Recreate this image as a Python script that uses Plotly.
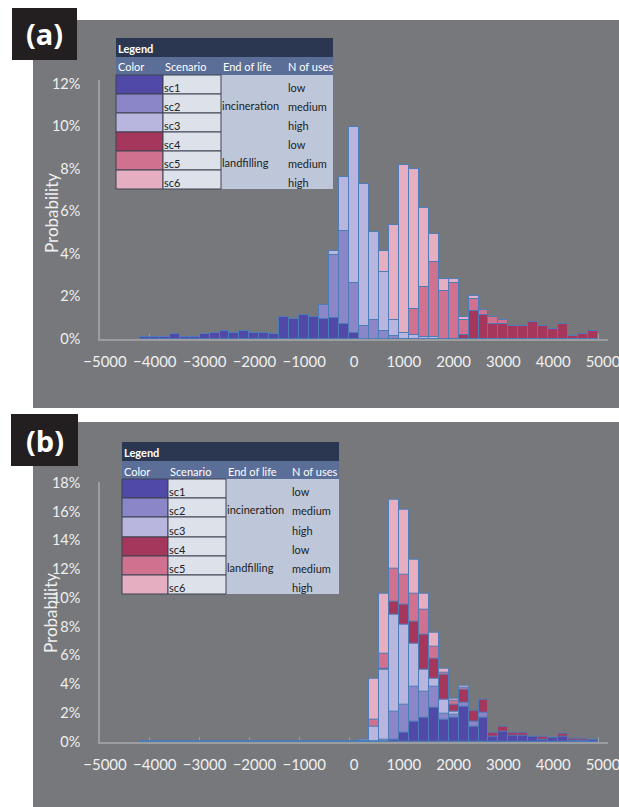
import plotly.graph_objects as go

# ---------------- data ----------------
bin_centers = [-4100, -3900, -3700, -3500, -3300, -3100, -2900, -2700, -2500, -2300,
               -2100, -1900, -1700, -1500, -1300, -1100, -900, -700, -500, -300,
               -100, 100, 300, 500, 700, 900, 1100, 1300, 1500, 1700,
               1900, 2100, 2300, 2500, 2700, 2900, 3100, 3300, 3500, 3700,
               3900, 4100, 4300, 4500, 4700, 4900]

scenarios = ["sc1", "sc2", "sc3", "sc4", "sc5", "sc6"]
end_of_life = ["incineration", "landfilling"]
n_of_uses = ["low", "medium", "high", "low", "medium", "high"]
x_ticks = [-5000, -4000, -3000, -2000, -1000, 0, 1000, 2000, 3000, 4000, 5000]

# panel (a): probability (%) per bin
sc1_a = [0.09, 0.09, 0.09, 0.2, 0.09, 0.09, 0.2, 0.25, 0.36, 0.25,
         0.36, 0.26, 0.26, 0.2, 1.02, 0.9, 1.12, 1.02, 0.9, 0.98,
         0.66, 0.25, 0, 0, 0, 0, 0, 0, 0, 0,
         0, 0, 0, 0, 0, 0, 0, 0, 0, 0,
         0, 0, 0, 0, 0, 0]
sc2_a = [0, 0, 0, 0, 0, 0, 0, 0, 0, 0,
         0, 0, 0, 0, 0, 0, 0, 0, 1.6, 3.92,
         5.05, 2.6, 0.58, 0.89, 0.36, 0.1, 0, 0, 0, 0,
         0, 0, 0, 0, 0, 0, 0, 0, 0, 0,
         0, 0, 0, 0, 0, 0]
sc3_a = [0, 0, 0, 0, 0, 0, 0, 0, 0, 0,
         0, 0, 0, 0, 0, 0, 0, 0, 0, 4.13,
         7.58, 9.93, 7.25, 5.03, 3.13, 0.89, 0.27, 0.17, 0.08, 0.08,
         0, 0, 0, 0, 0, 0, 0, 0, 0, 0,
         0, 0, 0, 0, 0, 0]
sc4_a = [0, 0, 0, 0, 0, 0, 0, 0, 0, 0,
         0, 0, 0, 0, 0, 0, 0, 0, 0, 0,
         0, 0, 0, 0, 0, 0, 0, 0, 0, 0,
         0, 0, 0.16, 1.3, 1.1, 0.66, 0.66, 0.58, 0.58, 0.78,
         0.58, 0.47, 0.67, 0.11, 0.2, 0.36]
sc5_a = [0, 0, 0, 0, 0, 0, 0, 0, 0, 0,
         0, 0, 0, 0, 0, 0, 0, 0, 0, 0,
         0, 0, 0, 0, 0, 0, 0, 1.38, 2.43, 3.6,
         2.24, 2.6, 0.89, 1.88, 1.36, 0.99, 0.89, 0, 0, 0,
         0, 0, 0, 0, 0, 0]
sc6_a = [0, 0, 0, 0, 0, 0, 0, 0, 0, 0,
         0, 0, 0, 0, 0, 0, 0, 0, 0, 0,
         0, 0, 0, 0, 4.13, 5.36, 8.17, 7.96, 6.15, 4.93,
         2.8, 2.81, 0.99, 1.99, 0, 0, 0, 0, 0, 0,
         0, 0, 0, 0, 0, 0]

# panel (b): probability (%) per bin
sc1_b = [0, 0, 0, 0, 0, 0, 0, 0, 0, 0,
         0, 0, 0, 0, 0, 0, 0, 0, 0, 0,
         0, 0, 0, 0, 0, 0.16, 0.63, 1.39, 1.69, 2.32,
         1.51, 1.67, 2.39, 1.04, 1.69, 0.35, 0.69, 0.39, 0.37, 0.33,
         0.16, 0.28, 0.3, 0.07, 0.07, 0.16]
sc2_b = [0, 0, 0, 0, 0, 0, 0, 0, 0, 0,
         0, 0, 0, 0, 0, 0, 0, 0, 0, 0,
         0, 0, 0, 0, 0.16, 2.04, 2.59, 3.82, 3.47, 3.82,
         1.9, 1.85, 2.73, 1.39, 2.0, 0, 0, 0, 0, 0,
         0, 0, 0, 0, 0, 0]
sc3_b = [0, 0, 0, 0, 0, 0, 0, 0, 0, 0,
         0, 0, 0, 0, 0, 0, 0, 0, 0, 0,
         0, 0, 0, 1.04, 4.98, 8.8, 8.11, 6.83, 4.98, 4.4,
         2.9, 2.04, 0, 0, 0, 0, 0, 0, 0, 0,
         0, 0, 0, 0, 0, 0]
sc4_b = [0, 0, 0, 0, 0, 0, 0, 0, 0, 0,
         0, 0, 0, 0, 0, 0, 0, 0, 0, 0,
         0, 0, 0, 0, 5.05, 9.73, 9.54, 8.34, 7.41, 5.79,
         4.63, 2.59, 3.59, 2.13, 2.88, 0.62, 1.0, 0.6, 0.6, 0,
         0.35, 0, 0.55, 0.21, 0.21, 0]
sc5_b = [0, 0, 0, 0, 0, 0, 0, 0, 0, 0,
         0, 0, 0, 0, 0, 0, 0, 0, 0, 0,
         0, 0, 0, 1.51, 6.14, 12.05, 11.58, 10.31, 9.15, 6.6,
         4.82, 2.83, 3.71, 0, 0, 0, 0, 0, 0, 0,
         0, 0, 0, 0, 0, 0]
sc6_b = [0, 0, 0, 0, 0, 0, 0, 0, 0, 0,
         0, 0, 0, 0, 0, 0, 0, 0, 0, 0,
         0, 0, 0.16, 4.4, 10.31, 16.84, 16.15, 12.67, 10.31, 7.57,
         5.05, 2.99, 3.89, 0, 0, 0, 0, 0, 0, 0,
         0, 0, 0, 0, 0, 0]

# ---------------- styles ----------------
colors = ["#5049a8", "#8a86c7", "#b8b6df", "#a6375c", "#d07190", "#e6aec1"]
BG = "#77787b"
AXIS = "#9c9d9f"
TXT = "#f0f0f0"
OUTLINE = "#4c7db8"
FONT = "Lato"
W, H = 619, 807


def px(x):
    return x / W


def py(y):
    return 1 - y / H


fig = go.Figure()

panel_a = [sc1_a, sc2_a, sc3_a, sc4_a, sc5_a, sc6_a]
panel_b = [sc1_b, sc2_b, sc3_b, sc4_b, sc5_b, sc6_b]

for panel, (xa, ya) in ((panel_a, ("x", "y")), (panel_b, ("x2", "y2"))):
    # draw sc6 first, sc1 last (on top), like Excel 100% overlap
    for i in range(5, -1, -1):
        fig.add_trace(go.Bar(
            x=bin_centers, y=panel[i], width=200, name=scenarios[i],
            marker=dict(color=colors[i], line=dict(color=OUTLINE, width=1)),
            xaxis=xa, yaxis=ya, showlegend=False, hoverinfo="skip",
        ))

xdom = [px(100), px(608)]
xcommon = dict(range=[-5000, 5200], tickvals=x_ticks, showgrid=False, zeroline=False,
               showline=True, linecolor=AXIS, linewidth=1.5, ticks="inside", ticklen=5,
               tickcolor=AXIS, tickwidth=1, layer="below traces", automargin=False,
               tickfont=dict(family=FONT, size=15, color=TXT), ticklabelstandoff=9,
               ticklabelshift=5, ticklabeloverflow="allow")
ycommon = dict(showgrid=False, zeroline=False, showline=True, linecolor=AXIS, linewidth=1.5,
               ticks="", ticksuffix="%", tickfont=dict(family=FONT, size=14.5, color=TXT),
               ticklabelstandoff=15, layer="below traces", automargin=False)

fig.update_layout(
    width=W, height=H, margin=dict(l=0, r=0, t=0, b=0, autoexpand=False),
    paper_bgcolor="white", plot_bgcolor="rgba(0,0,0,0)",
    barmode="overlay", bargap=0,
    xaxis=dict(domain=xdom, anchor="y", **xcommon),
    yaxis=dict(domain=[py(338.5), py(80)], anchor="x", range=[0, 12.165], dtick=2, **ycommon),
    xaxis2=dict(domain=xdom, anchor="y2", **xcommon),
    yaxis2=dict(domain=[py(741.5), py(481.7)], anchor="x2", range=[0, 18.07], dtick=2, **ycommon),
)

shapes = []
annotations = []

# grey panels
for (y0, y1) in ((20, 408), (422, 807)):
    shapes.append(dict(type="rect", xref="paper", yref="paper", x0=px(33), x1=px(619),
                       y0=py(y1), y1=py(y0), fillcolor=BG, line=dict(width=0), layer="below"))

# panel labels
for label, (x0, x1, y0, y1) in (("(a)", (12, 77, 8, 60)), ("(b)", (11, 78, 414, 466))):
    shapes.append(dict(type="rect", xref="paper", yref="paper", x0=px(x0), x1=px(x1),
                       y0=py(y1), y1=py(y0), fillcolor="#231f20", line=dict(width=0), layer="above"))
    annotations.append(dict(text=label, xref="paper", yref="paper", x=px((x0 + x1) / 2),
                            y=py((y0 + y1) / 2), showarrow=False, xanchor="center", yanchor="middle",
                            font=dict(family="Open Sans", size=29, color="white", weight="bold")))

# y titles
for (xc, yc) in ((51, 213), (50, 613)):
    annotations.append(dict(text="Probability", xref="paper", yref="paper", x=px(xc), y=py(yc),
                            textangle=-90, showarrow=False, xanchor="center", yanchor="middle",
                            font=dict(family=FONT, size=17, color=TXT)))


def legend_table(xs, ys):
    # xs: color-left, scenario-left, eol-left, uses-text-left, right
    # ys: title-top, header-top, row tops (7 values incl. bottom)
    xl, xsc, xe, xu, xr = xs
    yt, yh = ys[0], ys[1]
    rows = ys[2:]
    shapes.append(dict(type="rect", xref="paper", yref="paper", x0=px(xl), x1=px(xr),
                       y0=py(yh), y1=py(yt), fillcolor="#2b3651", line=dict(width=0), layer="above"))
    shapes.append(dict(type="rect", xref="paper", yref="paper", x0=px(xl), x1=px(xr),
                       y0=py(rows[0]), y1=py(yh), fillcolor="#5b6e97", line=dict(width=0), layer="above"))
    shapes.append(dict(type="rect", xref="paper", yref="paper", x0=px(xe), x1=px(xr),
                       y0=py(rows[-1]), y1=py(rows[0]), fillcolor="#bdc7d9", line=dict(width=0),
                       layer="above"))
    annotations.append(dict(text="<b>Legend</b>", xref="paper", yref="paper", x=px(xl), y=py((yt + yh) / 2 + 1),
                            showarrow=False, xanchor="left", yanchor="middle",
                            font=dict(family=FONT, size=11, color="white")))
    for txt, xx in (("Color", xl), ("Scenario", xsc), ("End of life", xe), ("N of uses", xu)):
        annotations.append(dict(text=txt, xref="paper", yref="paper", x=px(xx), y=py((yh + rows[0]) / 2 + 1),
                                showarrow=False, xanchor="left", yanchor="middle",
                                font=dict(family=FONT, size=11, color="white")))
    for i in range(6):
        r0, r1 = rows[i], rows[i + 1]
        shapes.append(dict(type="rect", xref="paper", yref="paper", x0=px(xl), x1=px(xsc),
                           y0=py(r1), y1=py(r0), fillcolor=colors[i],
                           line=dict(color="#3d4250", width=1), layer="above"))
        shapes.append(dict(type="rect", xref="paper", yref="paper", x0=px(xsc), x1=px(xe),
                           y0=py(r1), y1=py(r0), fillcolor="#dde1ea",
                           line=dict(color="#3d4250", width=1), layer="above"))
        annotations.append(dict(text=scenarios[i], xref="paper", yref="paper", x=px(xsc - 1),
                                y=py((r0 + r1) / 2 + 3), showarrow=False, xanchor="left", yanchor="middle",
                                font=dict(family=FONT, size=11, color="#222222")))
        annotations.append(dict(text=n_of_uses[i], xref="paper", yref="paper", x=px(xu),
                                y=py((r0 + r1) / 2 + 3), showarrow=False, xanchor="left", yanchor="middle",
                                font=dict(family=FONT, size=11, color="#222222")))
    for j, eol in enumerate(end_of_life):
        r = 1 + 3 * j
        annotations.append(dict(text=eol, xref="paper", yref="paper", x=px(xe - 1),
                                y=py((rows[r] + rows[r + 1]) / 2 + 2), showarrow=False,
                                xanchor="left", yanchor="middle",
                                font=dict(family=FONT, size=11, color="#222222")))


legend_table((116, 163, 221, 286, 333), (38, 57, 75, 94, 113, 132, 151, 170, 189))
legend_table((122, 168, 226, 290, 339), (442, 461, 479, 498, 517, 537, 556, 575, 594))

fig.update_layout(shapes=shapes, annotations=annotations)

fig.write_html("out.html", config={"displayModeBar": False},
               post_script="document.body.style.margin='0';")
